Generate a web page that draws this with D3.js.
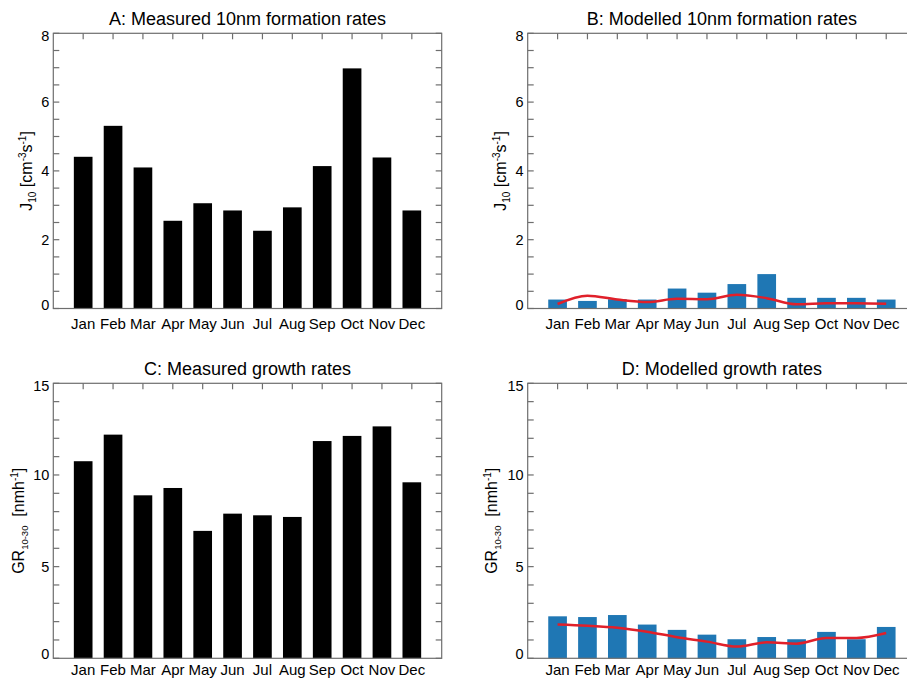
<!DOCTYPE html>
<html>
<head>
<meta charset="utf-8">
<script src="https://cdn.jsdelivr.net/npm/d3@7"></script>
<style>
  html, body { margin: 0; padding: 0; background: #fff; }
  svg { display: block; }
  text { font-family: "Liberation Sans", Arial, Helvetica, sans-serif; fill: #000; }
</style>
</head>
<body>
<svg id="chart" width="907" height="679"></svg>
<script>
// ---- Data ----
const months = ["Jan","Feb","Mar","Apr","May","Jun","Jul","Aug","Sep","Oct","Nov","Dec"];

const measuredJ10 = [4.41, 5.31, 4.10, 2.55, 3.06, 2.85, 2.26, 2.94, 4.14, 6.98, 4.39, 2.85];
const modelledJ10Bars = [0.26, 0.22, 0.27, 0.26, 0.58, 0.46, 0.71, 1.00, 0.31, 0.31, 0.31, 0.26];
const modelledJ10Line = [0.13, 0.37, 0.26, 0.19, 0.28, 0.27, 0.40, 0.30, 0.12, 0.15, 0.155, 0.14];

const measuredGR = [10.75, 12.2, 8.89, 9.29, 6.95, 7.89, 7.8, 7.71, 11.85, 12.13, 12.65, 9.6];
const modelledGRBars = [2.29, 2.25, 2.36, 1.84, 1.55, 1.29, 1.04, 1.16, 1.04, 1.44, 1.04, 1.71];
const modelledGRLine = [1.85, 1.78, 1.67, 1.45, 1.15, 0.91, 0.64, 0.87, 0.80, 1.11, 1.11, 1.38];

const j10Ticks = [0, 2, 4, 6, 8];
const grTicks = [0, 5, 10, 15];

// ---- Drawing ----
const svg = d3.select("#chart");
const axisColor = "#6e6e6e";
const blue = "#1f77b4";
const red = "#e0202a";

function drawPanel(cfg) {
  const g = svg.append("g");
  const x = d3.scaleLinear().domain([0, 13]).range([cfg.left, cfg.left + cfg.width]);
  const y = d3.scaleLinear().domain([0, cfg.ymax]).range([cfg.bottom, cfg.top]);
  const step = x(1) - x(0);
  const bw = step * 0.625;

  // title
  g.append("text")
    .attr("x", (x(0) + x(13)) / 2)
    .attr("y", cfg.top - 8)
    .attr("text-anchor", "middle")
    .style("font-size", "18px")
    .text(cfg.title);

  // bars
  g.selectAll("rect.bar").data(cfg.bars).enter().append("rect")
    .attr("x", (d, i) => x(i + 1) - bw / 2)
    .attr("y", d => y(d))
    .attr("width", bw)
    .attr("height", d => y(0) - y(d))
    .attr("fill", cfg.barColor);

  // frame
  const frame = g.append("g").attr("stroke", axisColor).attr("stroke-width", 1.2).attr("fill", "none");
  frame.append("rect")
    .attr("x", x(0)).attr("y", y(cfg.ymax))
    .attr("width", x(13) - x(0)).attr("height", y(0) - y(cfg.ymax));

  // top ticks at months
  d3.range(1, 13).forEach(i => {
    frame.append("line")
      .attr("x1", x(i)).attr("x2", x(i))
      .attr("y1", y(cfg.ymax)).attr("y2", y(cfg.ymax) + 6);
  });
  // left/right minor+major ticks
  d3.range(0, cfg.ymax + 1e-9, cfg.minor).forEach(v => {
    frame.append("line")
      .attr("x1", x(0)).attr("x2", x(0) + 6)
      .attr("y1", y(v)).attr("y2", y(v));
    frame.append("line")
      .attr("x1", x(13)).attr("x2", x(13) - 6)
      .attr("y1", y(v)).attr("y2", y(v));
  });

  // y tick labels
  cfg.ticks.forEach((v, i) => {
    let shift = 0;
    if (i === 0) shift = -4;
    if (i === cfg.ticks.length - 1) shift = 3;
    g.append("text")
      .attr("x", x(0) - 4)
      .attr("y", y(v) + shift)
      .attr("dy", "0.35em")
      .attr("text-anchor", "end")
      .style("font-size", "14.5px")
      .text(v);
  });

  // month labels
  months.forEach((m, i) => {
    g.append("text")
      .attr("x", x(i + 1))
      .attr("y", y(0) + cfg.monthOffset)
      .attr("text-anchor", "middle")
      .style("font-size", "15px")
      .text(m);
  });

  // line
  if (cfg.line) {
    const line = d3.line()
      .x((d, i) => x(i + 1))
      .y(d => y(d))
      .curve(d3.curveMonotoneX);
    g.append("path")
      .datum(cfg.line)
      .attr("d", line)
      .attr("fill", "none")
      .attr("stroke", red)
      .attr("stroke-width", 2.5);
  }

  // y-axis label
  const yc = (y(0) + y(cfg.ymax)) / 2;
  const lab = g.append("text")
    .attr("transform", `translate(${cfg.labelX},${yc}) rotate(-90)`)
    .attr("text-anchor", "middle")
    .style("font-size", "16px");
  cfg.label(lab);
}

function j10Label(t) {
  t.append("tspan").text("J");
  t.append("tspan").attr("dy", 4).style("font-size", "10px").text("10");
  t.append("tspan").attr("dy", -4).text(" [cm");
  t.append("tspan").attr("dy", -6).style("font-size", "10px").text("-3");
  t.append("tspan").attr("dy", 6).text("s");
  t.append("tspan").attr("dy", -6).style("font-size", "10px").text("-1");
  t.append("tspan").attr("dy", 6).text("]");
}
function grLabel(t) {
  t.append("tspan").text("GR");
  t.append("tspan").attr("dy", 4).style("font-size", "9.5px").text("10-30");
  t.append("tspan").attr("dy", -4).text("\u00a0\u00a0[nmh");
  t.append("tspan").attr("dy", -6).style("font-size", "10px").text("-1");
  t.append("tspan").attr("dy", 6).text("]");
}

const W = 388.4;
drawPanel({ title: "A: Measured 10nm formation rates", left: 53.3, width: W, top: 33.3, bottom: 308.5, monthOffset: 20,
  ymax: 8, minor: 0.5, ticks: j10Ticks, bars: measuredJ10, barColor: "#000", labelX: 32, label: j10Label });
drawPanel({ title: "B: Modelled 10nm formation rates", left: 527.7, width: W, top: 33.3, bottom: 308.5, monthOffset: 20,
  ymax: 8, minor: 0.5, ticks: j10Ticks, bars: modelledJ10Bars, line: modelledJ10Line, barColor: blue, labelX: 506, label: j10Label });
drawPanel({ title: "C: Measured growth rates", left: 53.3, width: W, top: 383.3, bottom: 658.3, monthOffset: 16.5,
  ymax: 15, minor: 1, ticks: grTicks, bars: measuredGR, barColor: "#000", labelX: 24, label: grLabel });
drawPanel({ title: "D: Modelled growth rates", left: 527.7, width: W, top: 383.3, bottom: 658.3, monthOffset: 16.5,
  ymax: 15, minor: 1, ticks: grTicks, bars: modelledGRBars, line: modelledGRLine, barColor: blue, labelX: 497, label: grLabel });
</script>
</body>
</html>
